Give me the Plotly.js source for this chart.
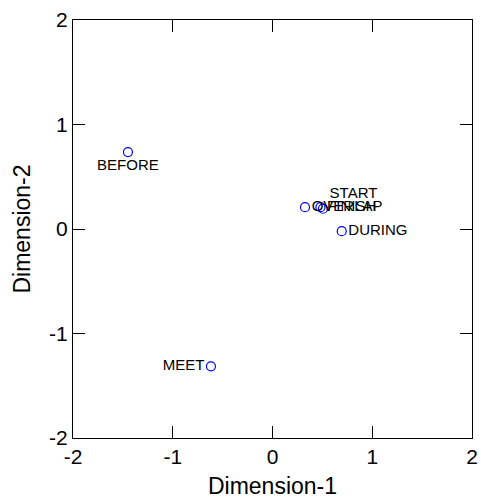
<!DOCTYPE html>
<html>
<head>
<meta charset="utf-8">
<script src="https://cdn.plot.ly/plotly-3.0.1.min.js"></script>
<style>html,body{margin:0;padding:0;background:#fff;}#chart{width:481px;height:499px;}</style>
</head>
<body>
<div id="chart"></div>
<script>
var labels = ["BEFORE", "MEET", "DURING", "OVERLAP", "FINISH", "START"];
var dim1 = [-1.449, -0.617, 0.694, 0.326, 0.481, 0.506];
var dim2 = [0.736, -1.314, -0.021, 0.209, 0.209, 0.194];
var labelPos = ["bottom center", "middle left", "middle right", "middle right", "middle right", "top right"];
var tickVals = [-2, -1, 0, 1, 2];
var tickText = ["-2", "-1", "0", "1", "2"];

var FONT = "Liberation Sans, Arial, sans-serif";

var trace = {
  type: "scatter",
  mode: "markers+text",
  x: dim1,
  y: dim2,
  text: labels,
  textposition: labelPos,
  textfont: {family: FONT, size: 15, color: "#000"},
  marker: {symbol: "circle-open", size: 9, color: "#0000ff", line: {width: 1.2, color: "#0000ff"}},
  cliponaxis: false,
  hoverinfo: "none"
};

function axis(title, standoff) {
  return {
    range: [-2, 2],
    tickmode: "array",
    tickvals: tickVals,
    ticktext: tickText,
    ticks: "inside",
    ticklen: 12,
    tickwidth: 1,
    tickcolor: "#000",
    showline: true,
    linecolor: "#000",
    linewidth: 1,
    mirror: "ticks",
    showgrid: false,
    zeroline: false,
    tickfont: {family: FONT, size: 21, color: "#000"},
    title: {text: title, font: {family: FONT, size: 23, color: "#000"}, standoff: standoff}
  };
}

var layout = {
  width: 481,
  height: 499,
  margin: {l: 73, r: 9, t: 20, b: 61},
  paper_bgcolor: "#fff",
  plot_bgcolor: "#fff",
  showlegend: false,
  xaxis: axis("Dimension-1", 10),
  yaxis: axis("Dimension-2", 12)
};

Plotly.newPlot("chart", [trace], layout, {staticPlot: true, displayModeBar: false});
</script>
</body>
</html>
